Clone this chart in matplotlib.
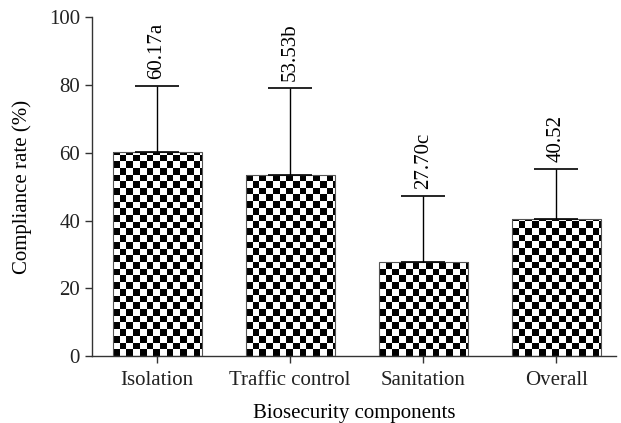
import numpy as np
import matplotlib
matplotlib.use('Agg')
import matplotlib.pyplot as plt

# Data
categories = ['Isolation', 'Traffic control', 'Sanitation', 'Overall']
means = [60.17, 53.53, 27.70, 40.52]
errors = [19.5, 25.6, 19.5, 14.7]
bar_labels = ['60.17a', '53.53b', '27.70c', '40.52']
yticks = [0, 20, 40, 60, 80, 100]

plt.rcParams['font.family'] = ['Liberation Serif', 'DejaVu Serif']

fig = plt.figure(figsize=(6.21, 4.23), dpi=100)
ax = fig.add_axes([0.148, 0.158, 0.844, 0.801])

x = np.arange(len(categories))
bars = ax.bar(x, means, width=0.67, facecolor='none', edgecolor='#555555',
              linewidth=0.8, zorder=3)

# checkerboard fill, clipped to each bar
sx, sy = 0.05, 1.98
for b in bars:
    x0, w, h = b.get_x(), b.get_width(), b.get_height()
    nx = int(np.ceil(w / sx))
    ny = int(np.ceil(h / sy))
    board = (np.add.outer(np.arange(ny), np.arange(nx)) % 2).astype(float)
    im = ax.imshow(board, cmap='gray', origin='lower', aspect='auto',
                   interpolation='nearest', extent=[x0, x0 + nx * sx, 0, ny * sy],
                   zorder=2, vmin=0, vmax=1)
    im.set_clip_path(b)

ax.errorbar(x, means, yerr=[np.zeros(len(means)), errors], fmt='none',
            ecolor='black', elinewidth=1, capsize=16, capthick=1.2, zorder=4)

for xi, m, e, lab in zip(x, means, errors, bar_labels):
    ax.text(xi, m + e + 2.0, lab, rotation=90, ha='center', va='bottom', fontsize=15)

ax.set_xlim(-0.49, 3.45)
ax.set_ylim(0, 100)
ax.set_xticks(x)
ax.set_xticklabels(categories, fontsize=15)
ax.set_yticks(yticks)
ax.set_yticklabels([str(t) for t in yticks], fontsize=15)
ax.set_ylabel('Compliance rate (%)', fontsize=15, labelpad=12)
ax.set_xlabel('Biosecurity components', fontsize=15, labelpad=10)

for s in ['top', 'right']:
    ax.spines[s].set_visible(False)
for s in ['left', 'bottom']:
    ax.spines[s].set_color('#333333')
    ax.spines[s].set_linewidth(1)
ax.tick_params(direction='out', length=5, width=1, colors='#333333', labelcolor='#222222')
ax.tick_params(axis='x', pad=6)

fig.savefig('out.png', dpi=100)
